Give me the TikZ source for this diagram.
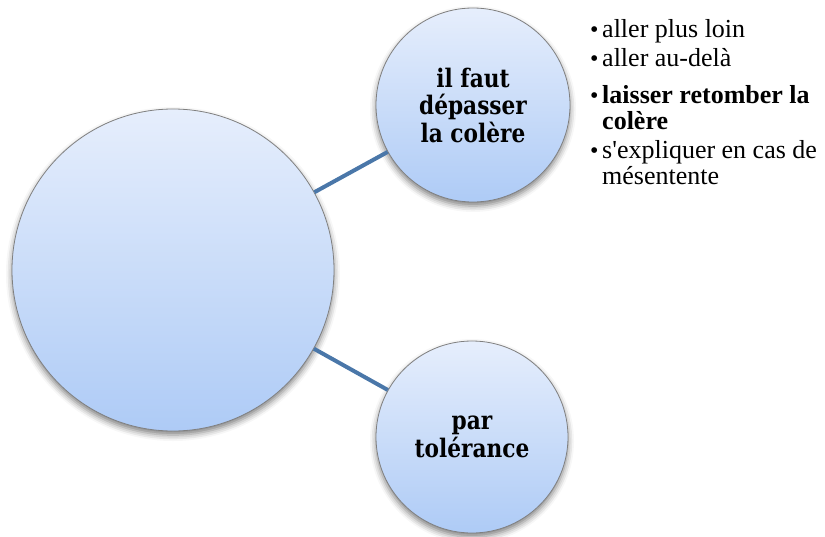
\documentclass[tikz,border=0pt]{standalone}
\usepackage{fontspec}
\setmainfont{Liberation Serif}
\newfontfamily\bubblefont{DejaVu Serif}[FakeStretch=0.85]
\usetikzlibrary{shadows.blur}
\definecolor{fillTop}{HTML}{E6EEFC}
\definecolor{fillBot}{HTML}{AECBF6}
\definecolor{rim}{HTML}{808080}
\definecolor{linkblue}{HTML}{4A77A9}
\begin{document}
\begin{tikzpicture}[x=1pt,y=-1pt,
  bubble/.style={circle, draw=rim, line width=0.8pt, top color=fillTop,
    bottom color=fillBot, inner sep=0pt,
    blur shadow={shadow xshift=0pt, shadow yshift=-4pt,
      shadow blur radius=6pt, shadow opacity=50}},
  bubbletext/.style={font=\bubblefont\bfseries\fontsize{25.5}{27.5}\selectfont,
    align=center, text=black},
  connector/.style={draw=linkblue, line width=4pt},
  entry/.style={anchor=base west, inner sep=0pt,
    font=\fontsize{26}{26}\selectfont},
  bulletmark/.style={anchor=base west, inner sep=0pt,
    font=\fontsize{24}{24}\selectfont}
]
\useasboundingbox (0,0) rectangle (825,536);

% central hub and its two satellites
\node[bubble, minimum size=322pt] (hub) at (173,270) {};
\node[bubble, bubbletext, minimum size=194pt] (upper) at (473,105)
  {il faut\\dépasser\\la colère};
\node[bubble, bubbletext, minimum size=192pt] (lower) at (472,437)
  {par\\tolérance};

\draw[connector] (hub) -- (upper);
\draw[connector] (hub) -- (lower);

% bullet list beside the upper bubble
\node[bulletmark] (b1) at (590,37) {•};
\node[entry] (t1) at (602,37) {aller plus loin};
\node[bulletmark] (b2) at (590,66) {•};
\node[entry] (t2) at (602,66) {aller au-delà};
\node[bulletmark] (b3) at (590,103) {•};
\node[entry, font=\fontsize{26}{26}\selectfont\bfseries] (t3) at (602,103) {laisser retomber la};
\node[entry, font=\fontsize{26}{26}\selectfont\bfseries] (t4) at (602,129) {colère};
\node[bulletmark] (b4) at (590,158) {•};
\node[entry] (t5) at (602,158) {s\textquotesingle expliquer en cas de};
\node[entry] (t6) at (602,184) {mésentente};
\end{tikzpicture}
\end{document}
